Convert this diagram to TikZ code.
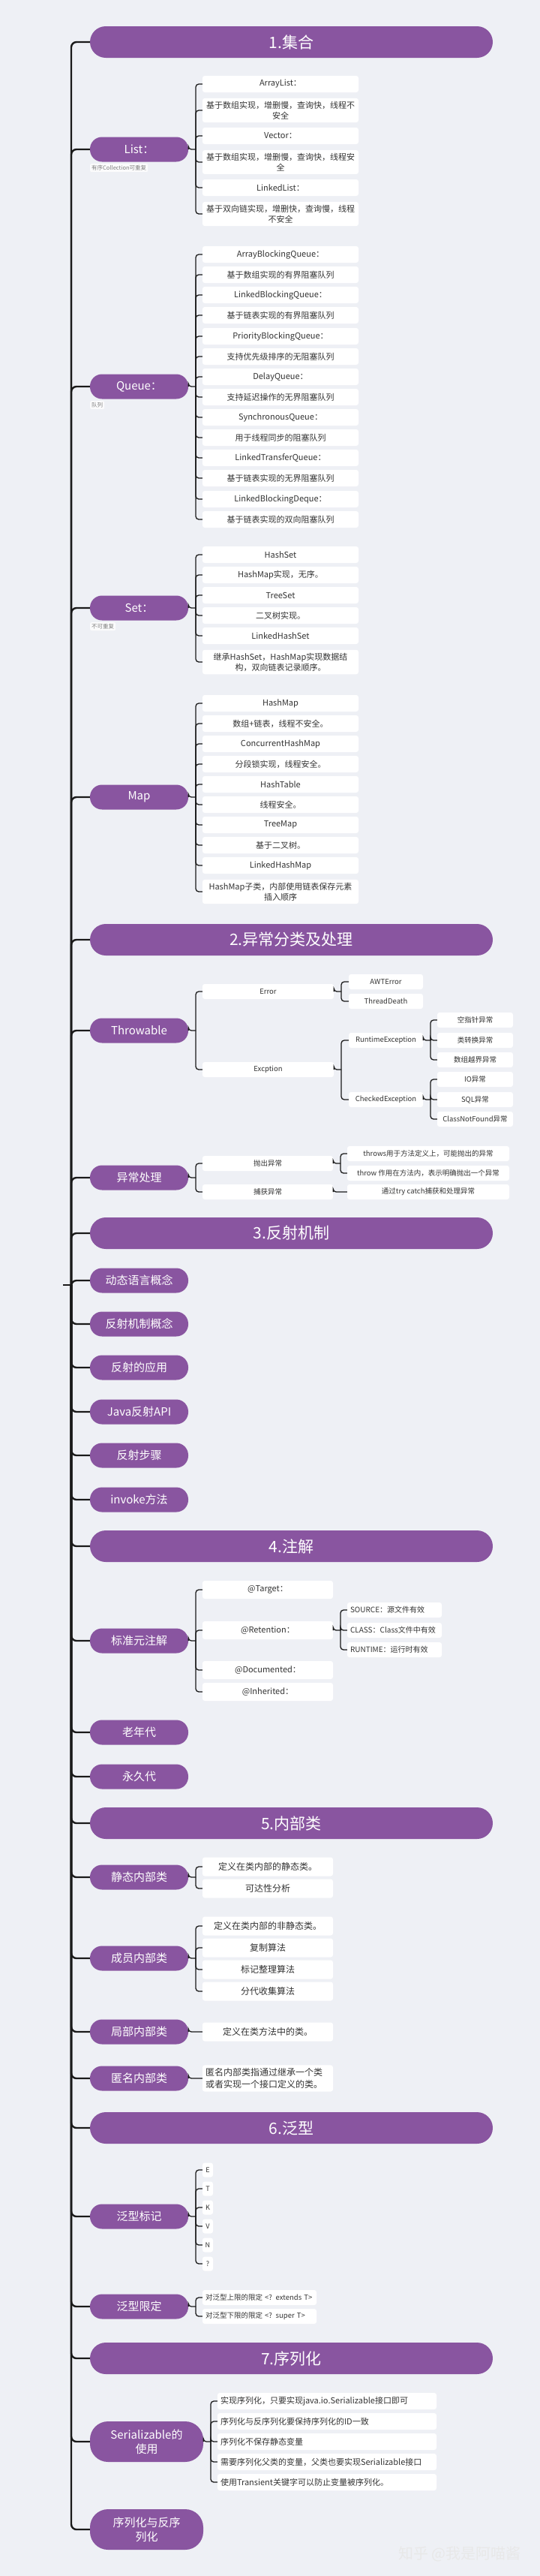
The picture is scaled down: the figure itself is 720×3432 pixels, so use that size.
\documentclass[tikz,border=0pt]{standalone}
\usepackage{fontspec}
\setmainfont{Noto Sans CJK SC}
\definecolor{bgc}{HTML}{EEF0F5}
\definecolor{purp}{HTML}{8955A0}
\definecolor{ink}{HTML}{333333}
\definecolor{wire}{HTML}{1A1A1A}
\tikzset{
  topbox/.style={fill=purp, text=white, rounded corners=21pt, minimum width=537pt, minimum height=42pt, font=\fontsize{21}{25}\selectfont},
  subpill/.style={fill=purp, text=white, rounded corners=16pt, minimum width=131pt, minimum height=33pt, align=center, font=\fontsize{15}{19}\selectfont},
  bigpill/.style={subpill, rounded corners=24pt, minimum width=151pt, minimum height=54pt},
  notebox/.style={fill=white!75!bgc, text=gray, rounded corners=2pt, inner sep=2pt, anchor=north west, font=\fontsize{7.5}{9}\selectfont},
  leafbox/.style={fill=white, text=ink, rounded corners=3pt, inner xsep=4pt, inner ysep=4pt, align=center},
  collbox/.style={leafbox, minimum width=208pt, minimum height=22pt, font=\fontsize{11}{14}\selectfont},
  errbox/.style={leafbox, minimum width=175pt, minimum height=20pt, font=\fontsize{9.5}{12}\selectfont},
  midbox/.style={leafbox, minimum width=99pt, minimum height=20pt, font=\fontsize{9.5}{12}\selectfont},
  endbox/.style={leafbox, minimum width=101pt, minimum height=20pt, font=\fontsize{9.5}{12}\selectfont},
  wordbox/.style={leafbox, minimum width=216pt, minimum height=20pt, font=\fontsize{9.5}{12}\selectfont},
  annbox/.style={leafbox, minimum width=174pt, minimum height=24pt, font=\fontsize{11}{14}\selectfont},
  retbox/.style={leafbox, text width=118pt, align=left, minimum height=20pt, font=\fontsize{10}{12}\selectfont},
  clsbox/.style={leafbox, minimum width=174pt, minimum height=25pt, font=\fontsize{12}{16}\selectfont},
  letterbox/.style={leafbox, inner xsep=1pt, minimum width=14pt, minimum height=19pt, font=\fontsize{9}{11}\selectfont},
  boundbox/.style={leafbox, text width=144pt, align=left, minimum height=20pt, font=\fontsize{9.5}{12}\selectfont},
  serbox/.style={leafbox, text width=284pt, align=left, minimum height=22pt, font=\fontsize{11}{14}\selectfont},
  trunkline/.style={draw=wire, line width=2.4pt, rounded corners=7pt, to path={|- (\tikztotarget)}},
  linkline/.style={draw=wire, line width=1.3pt, rounded corners=4pt, to path={|- (\tikztotarget)}},
}
\begin{document}
\begin{tikzpicture}[x=1pt, y=-1pt]
  \fill[bgc] (0,0) rectangle (720,3432);
  \useasboundingbox (0,0) rectangle (720,3432);
  \coordinate (root) at (84,1712);
  \coordinate (hub) at (95,1712);

  % 1. collections
  \node[topbox] (s1) at (388.5,56) {1.集合};
  \node[subpill] (list) at (185.5,199) {List：};
  \node[notebox] (listn) at (120,218) {有序Collection可重复};
  \coordinate (listj) at (261,199);
  \node[collbox] (l1) at (374,112) {ArrayList：};
  \node[collbox] (l2) at (374,147) {基于数组实现，增删慢，查询快，线程不\\安全};
  \node[collbox] (l3) at (374,181) {Vector：};
  \node[collbox] (l4) at (374,216) {基于数组实现，增删慢，查询快，线程安\\全};
  \node[collbox] (l5) at (374,250) {LinkedList：};
  \node[collbox] (l6) at (374,285) {基于双向链实现，增删快，查询慢，线程\\不安全};

  \node[subpill] (queue) at (185.5,515) {Queue：};
  \node[notebox] (queuen) at (120,534) {队列};
  \coordinate (queuej) at (261,515);
  \node[collbox] (q1) at (374,339) {ArrayBlockingQueue：};
  \node[collbox] (q2) at (374,366) {基于数组实现的有界阻塞队列};
  \node[collbox] (q3) at (374,393) {LinkedBlockingQueue：};
  \node[collbox] (q4) at (374,420) {基于链表实现的有界阻塞队列};
  \node[collbox] (q5) at (374,448) {PriorityBlockingQueue：};
  \node[collbox] (q6) at (374,475) {支持优先级排序的无阻塞队列};
  \node[collbox] (q7) at (374,502) {DelayQueue：};
  \node[collbox] (q8) at (374,529) {支持延迟操作的无界阻塞队列};
  \node[collbox] (q9) at (374,556) {SynchronousQueue：};
  \node[collbox] (q10) at (374,583) {用于线程同步的阻塞队列};
  \node[collbox] (q11) at (374,610) {LinkedTransferQueue：};
  \node[collbox] (q12) at (374,637) {基于链表实现的无界阻塞队列};
  \node[collbox] (q13) at (374,665) {LinkedBlockingDeque：};
  \node[collbox] (q14) at (374,692) {基于链表实现的双向阻塞队列};

  \node[subpill] (set) at (185.5,810) {Set：};
  \node[notebox] (setn) at (120,829) {不可重复};
  \coordinate (setj) at (261,810);
  \node[collbox] (t1) at (374,739) {HashSet};
  \node[collbox] (t2) at (374,766) {HashMap实现，无序。};
  \node[collbox] (t3) at (374,793) {TreeSet};
  \node[collbox] (t4) at (374,820) {二叉树实现。};
  \node[collbox] (t5) at (374,847) {LinkedHashSet};
  \node[collbox] (t6) at (374,882) {继承HashSet，HashMap实现数据结\\构，双向链表记录顺序。};

  \node[subpill] (map) at (185.5,1062) {Map};
  \coordinate (mapj) at (261,1062);
  \node[collbox] (m1) at (374,937) {HashMap};
  \node[collbox] (m2) at (374,964) {数组+链表，线程不安全。};
  \node[collbox] (m3) at (374,991) {ConcurrentHashMap};
  \node[collbox] (m4) at (374,1018) {分段锁实现，线程安全。};
  \node[collbox] (m5) at (374,1045) {HashTable};
  \node[collbox] (m6) at (374,1072) {线程安全。};
  \node[collbox] (m7) at (374,1099) {TreeMap};
  \node[collbox] (m8) at (374,1126) {基于二叉树。};
  \node[collbox] (m9) at (374,1153) {LinkedHashMap};
  \node[collbox] (m10) at (374,1188) {HashMap子类，内部使用链表保存元素\\插入顺序};

  % 2. exceptions
  \node[topbox] (s2) at (388.5,1252) {2.异常分类及处理};
  \node[subpill] (throwable) at (185.5,1373) {Throwable};
  \coordinate (throwablej) at (261,1373);
  \node[errbox] (err) at (357.5,1321) {Error};
  \node[errbox] (exc) at (357.5,1425) {Excption};
  \coordinate (errj) at (455,1321);
  \coordinate (excj) at (455,1425);
  \node[midbox] (awt) at (514.5,1308) {AWTError};
  \node[midbox] (death) at (514.5,1334) {ThreadDeath};
  \node[midbox] (rte) at (514.5,1386) {RuntimeException};
  \node[midbox] (chk) at (514.5,1465) {CheckedException};
  \coordinate (rtej) at (574,1386);
  \coordinate (chkj) at (574,1465);
  \node[endbox] (npe) at (633.5,1359) {空指针异常};
  \node[endbox] (cce) at (633.5,1386) {类转换异常};
  \node[endbox] (oob) at (633.5,1412) {数组越界异常};
  \node[endbox] (ioe) at (633.5,1438) {IO异常};
  \node[endbox] (sqle) at (633.5,1465) {SQL异常};
  \node[endbox] (cnf) at (633.5,1491) {ClassNotFound异常};

  \node[subpill] (handle) at (185.5,1569) {异常处理};
  \coordinate (handlej) at (261,1569);
  \node[errbox, minimum width=174pt] (throwx) at (357,1550) {抛出异常};
  \node[errbox, minimum width=174pt] (catchx) at (357,1588) {捕获异常};
  \coordinate (throwxj) at (454,1550);
  \node[wordbox] (throwsw) at (571,1537) {throws用于方法定义上，可能抛出的异常};
  \node[wordbox] (throww) at (571,1563) {throw 作用在方法内，表示明确抛出一个异常};
  \node[wordbox] (catchw) at (571,1588) {通过try catch捕获和处理异常};

  % 3. reflection
  \node[topbox] (s3) at (388.5,1643) {3.反射机制};
  \node[subpill] (dyn) at (185.5,1706) {动态语言概念};
  \node[subpill] (refl) at (185.5,1764) {反射机制概念};
  \node[subpill] (use) at (185.5,1822) {反射的应用};
  \node[subpill] (api) at (185.5,1881) {Java反射API};
  \node[subpill] (steps) at (185.5,1939) {反射步骤};
  \node[subpill] (invoke) at (185.5,1998) {invoke方法};

  % 4. annotations
  \node[topbox] (s4) at (388.5,2060) {4.注解};
  \node[subpill] (meta) at (185.5,2186) {标准元注解};
  \coordinate (metaj) at (261,2186);
  \node[annbox] (tgt) at (357,2118) {@Target：};
  \node[annbox] (ret) at (357,2172) {@Retention：};
  \node[annbox] (doc) at (357,2225) {@Documented：};
  \node[annbox] (inh) at (357,2254) {@Inherited：};
  \coordinate (retj) at (454,2172);
  \node[retbox] (src) at (526,2145) {SOURCE：源文件有效};
  \node[retbox] (cls) at (526,2172) {CLASS：Class文件中有效};
  \node[retbox] (run) at (526,2198) {RUNTIME：运行时有效};
  \node[subpill] (old) at (185.5,2308) {老年代};
  \node[subpill] (perm) at (185.5,2367) {永久代};

  % 5. inner classes
  \node[topbox] (s5) at (388.5,2429) {5.内部类};
  \node[subpill] (static) at (185.5,2501) {静态内部类};
  \coordinate (staticj) at (261,2501);
  \node[clsbox] (st1) at (357,2487) {定义在类内部的静态类。};
  \node[clsbox] (st2) at (357,2516) {可达性分析};
  \node[subpill] (member) at (185.5,2609) {成员内部类};
  \coordinate (memberj) at (261,2609);
  \node[clsbox] (mb1) at (357,2566) {定义在类内部的非静态类。};
  \node[clsbox] (mb2) at (357,2595) {复制算法};
  \node[clsbox] (mb3) at (357,2624) {标记整理算法};
  \node[clsbox] (mb4) at (357,2653) {分代收集算法};
  \node[subpill] (local) at (185.5,2707) {局部内部类};
  \node[clsbox] (lc1) at (357,2707) {定义在类方法中的类。};
  \node[subpill] (anon) at (185.5,2769) {匿名内部类};
  \node[clsbox, text width=166pt, align=left] (an1) at (357,2769) {匿名内部类指通过继承一个类\\或者实现一个接口定义的类。};

  % 6. generics
  \node[topbox] (s6) at (388.5,2835) {6.泛型};
  \node[subpill] (gmark) at (185.5,2953) {泛型标记};
  \coordinate (gmarkj) at (261,2953);
  \node[letterbox] (ge) at (277,2891) {E};
  \node[letterbox] (gt) at (277,2916) {T};
  \node[letterbox] (gk) at (277,2941) {K};
  \node[letterbox] (gv) at (277,2966) {V};
  \node[letterbox] (gn) at (277,2991) {N};
  \node[letterbox] (gq) at (277,3016) {?};
  \node[subpill] (gbound) at (185.5,3073) {泛型限定};
  \coordinate (gboundj) at (261,3073);
  \node[boundbox] (gb1) at (346,3061) {对泛型上限的限定 <? extends T>};
  \node[boundbox] (gb2) at (346,3086) {对泛型下限的限定 <? super T>};

  % 7. serialization
  \node[topbox] (s7) at (388.5,3142) {7.序列化};
  \node[bigpill] (ser) at (195.5,3253) {Serializable的\\使用};
  \coordinate (serj) at (281,3253);
  \node[serbox] (sr1) at (436,3199) {实现序列化，只要实现java.io.Serializable接口即可};
  \node[serbox] (sr2) at (436,3226) {序列化与反序列化要保持序列化的ID一致};
  \node[serbox] (sr3) at (436,3253) {序列化不保存静态变量};
  \node[serbox] (sr4) at (436,3280) {需要序列化父类的变量，父类也要实现Serializable接口};
  \node[serbox] (sr5) at (436,3307) {使用Transient关键字可以防止变量被序列化。};
  \node[bigpill] (serde) at (195.5,3370) {序列化与反序\\列化};

  \node[text=white!82!gray, font=\fontsize{20}{24}\selectfont] (mark) at (613,3403) {知乎 @我是阿喵酱};

  % trunk
  \draw[draw=wire, line width=2.4pt] (root) -- (hub);
  \path (hub) edge[trunkline] (s1.west) edge[trunkline] (list.west) edge[trunkline] (queue.west)
              edge[trunkline] (set.west) edge[trunkline] (map.west) edge[trunkline] (s2.west)
              edge[trunkline] (throwable.west) edge[trunkline] (handle.west) edge[trunkline] (s3.west);
  \path (hub) edge[trunkline] (dyn.west) edge[trunkline] (refl.west) edge[trunkline] (use.west)
              edge[trunkline] (api.west) edge[trunkline] (steps.west) edge[trunkline] (invoke.west)
              edge[trunkline] (s4.west) edge[trunkline] (meta.west) edge[trunkline] (old.west)
              edge[trunkline] (perm.west);
  \path (hub) edge[trunkline] (s5.west) edge[trunkline] (static.west) edge[trunkline] (member.west)
              edge[trunkline] (local.west) edge[trunkline] (anon.west) edge[trunkline] (s6.west)
              edge[trunkline] (gmark.west) edge[trunkline] (gbound.west) edge[trunkline] (s7.west)
              edge[trunkline] (ser.west) edge[trunkline] (serde.west);

  % branches
  \path (list.east) edge[linkline] (listj);
  \path (listj) edge[linkline] (l1.west) edge[linkline] (l2.west) edge[linkline] (l3.west)
                edge[linkline] (l4.west) edge[linkline] (l5.west) edge[linkline] (l6.west);
  \path (queue.east) edge[linkline] (queuej);
  \path (queuej) edge[linkline] (q1.west) edge[linkline] (q2.west) edge[linkline] (q3.west)
                 edge[linkline] (q4.west) edge[linkline] (q5.west) edge[linkline] (q6.west)
                 edge[linkline] (q7.west) edge[linkline] (q8.west) edge[linkline] (q9.west)
                 edge[linkline] (q10.west) edge[linkline] (q11.west) edge[linkline] (q12.west)
                 edge[linkline] (q13.west) edge[linkline] (q14.west);
  \path (set.east) edge[linkline] (setj);
  \path (setj) edge[linkline] (t1.west) edge[linkline] (t2.west) edge[linkline] (t3.west)
               edge[linkline] (t4.west) edge[linkline] (t5.west) edge[linkline] (t6.west);
  \path (map.east) edge[linkline] (mapj);
  \path (mapj) edge[linkline] (m1.west) edge[linkline] (m2.west) edge[linkline] (m3.west)
               edge[linkline] (m4.west) edge[linkline] (m5.west) edge[linkline] (m6.west)
               edge[linkline] (m7.west) edge[linkline] (m8.west) edge[linkline] (m9.west)
               edge[linkline] (m10.west);

  \path (throwable.east) edge[linkline] (throwablej);
  \path (throwablej) edge[linkline] (err.west) edge[linkline] (exc.west);
  \path (err.east) edge[linkline] (errj);
  \path (errj) edge[linkline] (awt.west) edge[linkline] (death.west);
  \path (exc.east) edge[linkline] (excj);
  \path (excj) edge[linkline] (rte.west) edge[linkline] (chk.west);
  \path (rte.east) edge[linkline] (rtej);
  \path (rtej) edge[linkline] (npe.west) edge[linkline] (cce.west) edge[linkline] (oob.west);
  \path (chk.east) edge[linkline] (chkj);
  \path (chkj) edge[linkline] (ioe.west) edge[linkline] (sqle.west) edge[linkline] (cnf.west);
  \path (handle.east) edge[linkline] (handlej);
  \path (handlej) edge[linkline] (throwx.west) edge[linkline] (catchx.west);
  \path (throwx.east) edge[linkline] (throwxj);
  \path (throwxj) edge[linkline] (throwsw.west) edge[linkline] (throww.west);
  \path (catchx.east) edge[linkline] (catchw.west);

  \path (meta.east) edge[linkline] (metaj);
  \path (metaj) edge[linkline] (tgt.west) edge[linkline] (ret.west) edge[linkline] (doc.west)
                edge[linkline] (inh.west);
  \path (ret.east) edge[linkline] (retj);
  \path (retj) edge[linkline] (src.west) edge[linkline] (cls.west) edge[linkline] (run.west);

  \path (static.east) edge[linkline] (staticj);
  \path (staticj) edge[linkline] (st1.west) edge[linkline] (st2.west);
  \path (member.east) edge[linkline] (memberj);
  \path (memberj) edge[linkline] (mb1.west) edge[linkline] (mb2.west) edge[linkline] (mb3.west)
                  edge[linkline] (mb4.west);
  \path (local.east) edge[linkline] (lc1.west);
  \path (anon.east) edge[linkline] (an1.west);

  \path (gmark.east) edge[linkline] (gmarkj);
  \path (gmarkj) edge[linkline] (ge.west) edge[linkline] (gt.west) edge[linkline] (gk.west)
                 edge[linkline] (gv.west) edge[linkline] (gn.west) edge[linkline] (gq.west);
  \path (gbound.east) edge[linkline] (gboundj);
  \path (gboundj) edge[linkline] (gb1.west) edge[linkline] (gb2.west);

  \path (ser.east) edge[linkline] (serj);
  \path (serj) edge[linkline] (sr1.west) edge[linkline] (sr2.west) edge[linkline] (sr3.west)
               edge[linkline] (sr4.west) edge[linkline] (sr5.west);
\end{tikzpicture}
\end{document}
